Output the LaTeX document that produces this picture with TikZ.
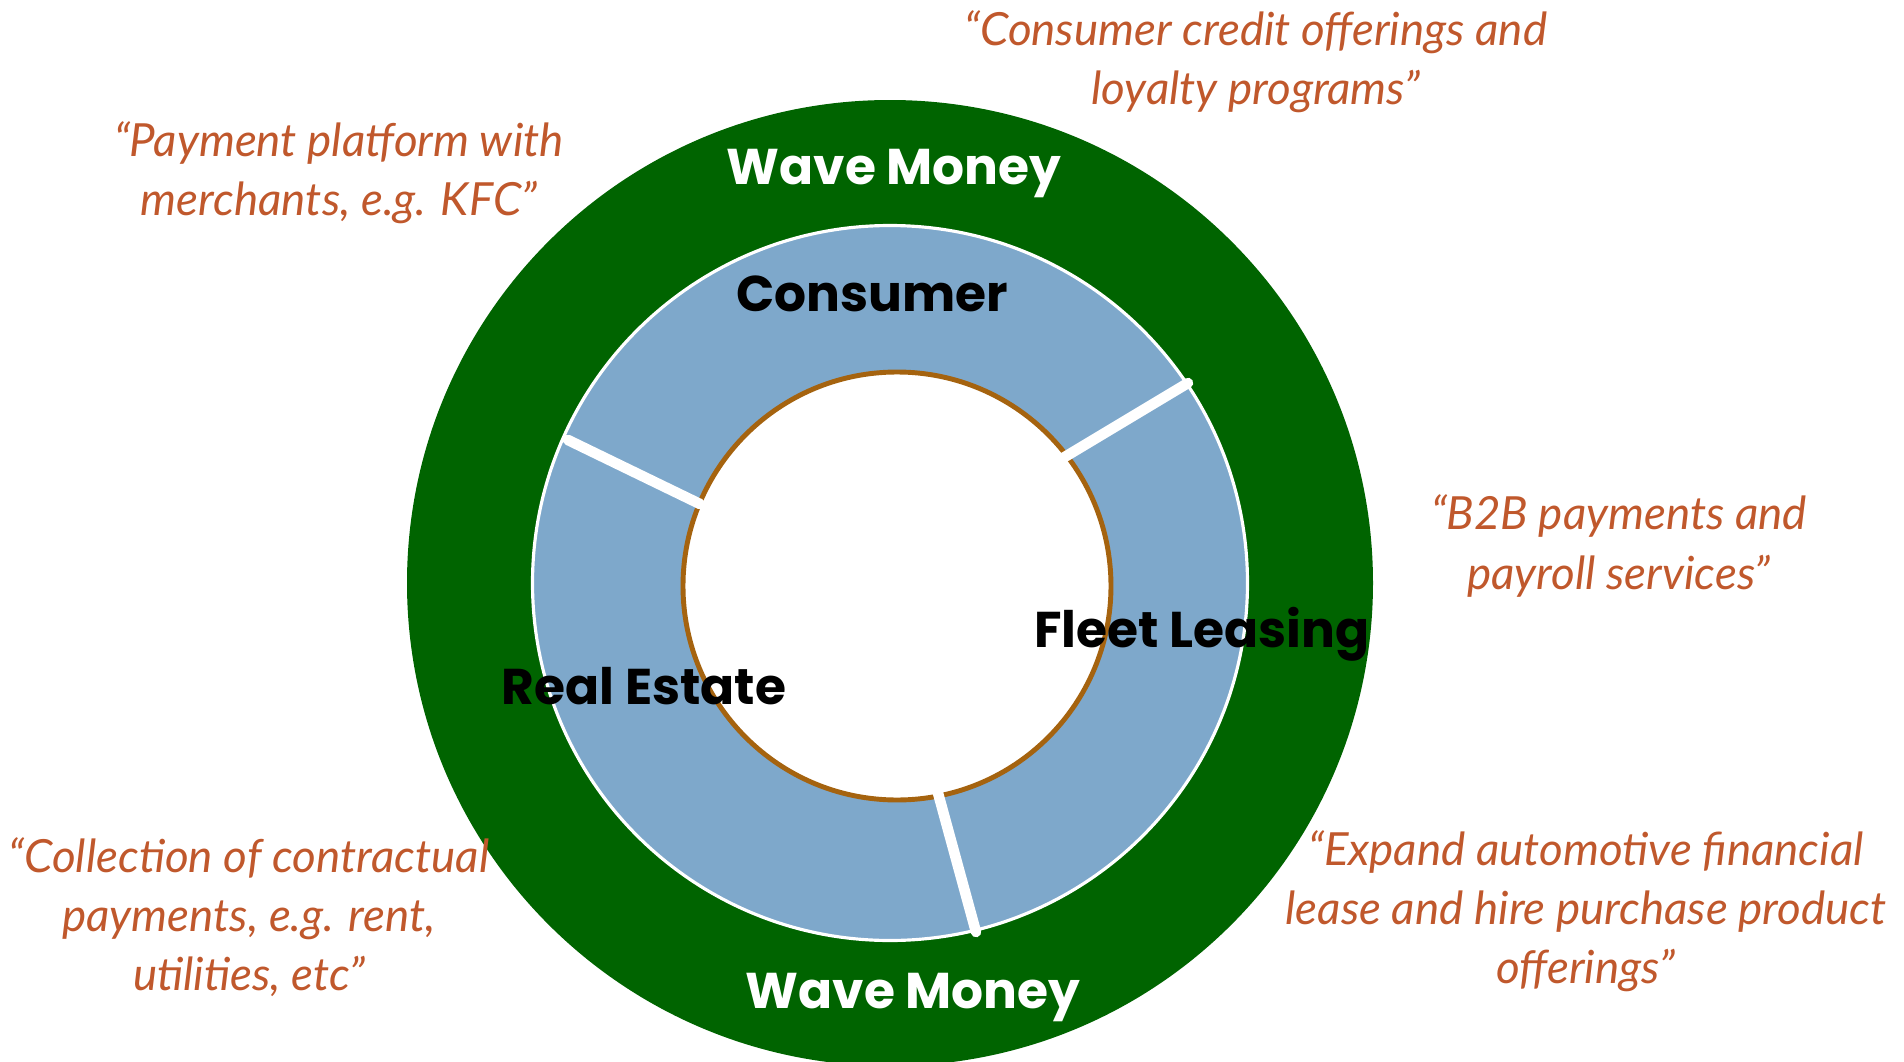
\documentclass[tikz,border=0pt]{standalone}
\usepackage{fontspec}
\usepackage{tikz}
\usetikzlibrary{calc}
\newfontfamily\segfont{Poppins}
\newfontfamily\quotefont{Lato}
\definecolor{wavegreen}{HTML}{006400}
\definecolor{segblue}{HTML}{7EA8CB}
\definecolor{rimbrown}{HTML}{A5630F}
\definecolor{quoterust}{HTML}{C0582C}

\begin{document}
\begin{tikzpicture}[
  seg/.style={font=\segfont\bfseries\fontsize{14.3}{17}\selectfont, text=black},
  wave/.style={seg, text=white},
  quote/.style={font=\quotefont\itshape\fontsize{13}{16.8}\selectfont, text=quoterust, align=center},
  divider/.style={white, line width=3pt, line cap=round}
]
  \useasboundingbox (0,0) rectangle (19.04,10.61);
  \clip (0,0) rectangle (19.04,10.61);
  \coordinate (c) at (8.90,4.78);
  \coordinate (ci) at (8.97,4.75);

  % Rings
  \fill[wavegreen] (c) circle (4.83);
  \filldraw[fill=segblue, draw=white, line width=0.9pt] (c) circle (3.575);
  \filldraw[fill=white, draw=rimbrown, line width=1.4pt] (ci) circle (2.14);

  % Dividers between the segments
  \draw[divider] (5.68,6.21) -- (7.00,5.57);
  \draw[divider] (11.88,6.78) -- (10.63,6.03);
  \draw[divider] (9.38,2.68) -- (9.76,1.29);

  % Segment labels
  \node[wave] (wavetop) at (8.94,8.87) {Wave Money};
  \node[seg] (consumer) at (8.72,7.67) {Consumer};
  \node[seg] (fleet) at (12.02,4.27) {Fleet Leasing};
  \node[seg] (realestate) at (6.44,3.75) {Real Estate};
  \node[wave] (wavebottom) at (9.13,0.63) {Wave Money};

  % Quotes
  \node[quote] (qmerchant) at (3.39,8.88) {“Payment platform with\\ merchants, e.g. KFC”};
  \node[quote] (qcredit) at (12.56,9.99) {“Consumer credit offerings and\\ loyalty programs”};
  \node[quote] (qbtob) at (16.19,5.15) {“B2B payments and\\ payroll services”};
  \node[quote] (qcollect) at (2.49,1.44) {“Collection of contractual\\ payments, e.g. rent,\\ utilities, etc”};
  \node[quote] (qexpand) at (15.86,1.50) {“Expand automotive financial\\ lease and hire purchase product\\ offerings”};
\end{tikzpicture}
\end{document}
